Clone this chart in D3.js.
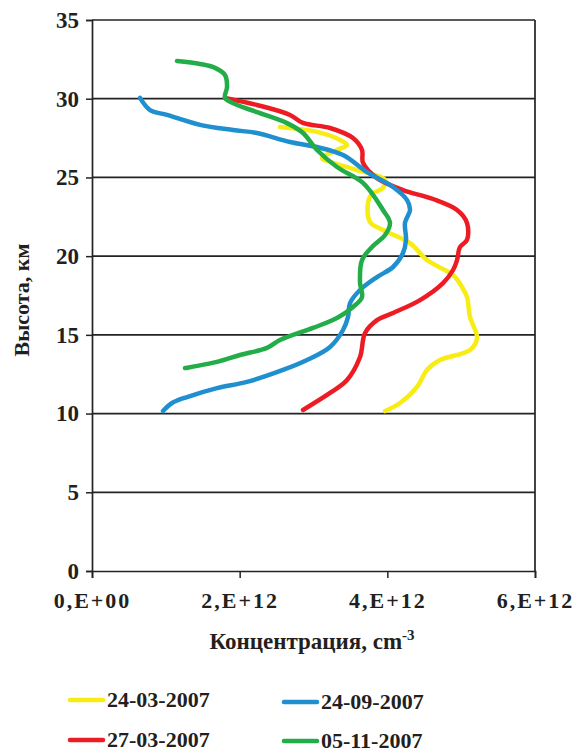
<!DOCTYPE html>
<html>
<head>
<meta charset="utf-8">
<script src="https://cdn.jsdelivr.net/npm/d3@7"></script>
<style>
  html, body { margin: 0; padding: 0; background: #fff; }
  svg text { font-family: "Liberation Serif", "Times New Roman", serif; font-weight: bold; fill: #231f20; }
</style>
</head>
<body>
<svg id="chart" width="574" height="753"></svg>
<script>
// ---- data (concentration in 1e12 cm^-3, altitude in km) ----
const seriesNames = ["24-03-2007", "27-03-2007", "24-09-2007", "05-11-2007"];
const seriesColors = ["#f7ec13", "#ed1c24", "#1f8fd0", "#22ad48"];

const yellowConc = [2.546,3.048,3.359,3.454,3.318,3.115,3.264,3.589,3.969,3.941,3.792,3.738,3.765,3.941,4.307,4.537,4.890,5.011,5.079,5.120,5.215,5.120,4.714,4.537,4.402,4.172,3.969];
const yellowAlt  = [28.20,27.89,27.38,27.06,26.74,26.23,25.92,25.47,24.84,24.33,23.95,23.38,22.17,21.66,20.83,19.75,18.80,18.04,17.40,16.13,14.80,14.04,13.40,12.77,11.69,10.67,10.16];

const redConc = [1.801,2.235,2.682,2.858,3.224,3.535,3.657,3.671,3.860,4.212,4.619,4.944,5.079,5.079,4.984,4.944,4.890,4.754,4.443,4.077,3.860,3.698,3.630,3.454,3.224,2.858];
const redAlt  = [30.05,29.60,28.97,28.46,28.14,27.50,26.74,25.92,24.96,24.20,23.63,22.93,22.11,21.03,20.58,19.75,19.12,18.29,17.21,16.39,15.94,15.12,13.59,12.13,11.31,10.23];

const blueConc = [0.650,0.786,1.016,1.463,1.910,2.235,2.682,3.048,3.400,3.725,4.077,4.267,4.307,4.239,4.253,4.212,4.077,3.860,3.630,3.495,3.467,3.400,3.224,2.912,2.587,2.099,1.693,1.287,1.084,0.962];
const blueAlt  = [30.05,29.28,28.97,28.34,28.01,27.82,27.25,26.93,26.42,25.34,24.39,23.56,22.93,22.11,21.03,20.20,19.31,18.67,17.85,17.02,16.13,15.31,14.23,13.40,12.77,12.01,11.62,11.05,10.67,10.16];

const greenConc = [1.151,1.463,1.666,1.801,1.829,1.801,1.937,2.235,2.641,2.858,3.048,3.318,3.671,3.941,4.036,3.969,3.792,3.657,3.630,3.657,3.535,3.318,2.993,2.546,2.370,2.005,1.693,1.260];
const greenAlt  = [32.40,32.21,31.96,31.51,30.74,30.05,29.66,29.15,28.45,27.82,26.74,25.66,24.65,22.93,22.11,21.34,20.58,19.75,18.29,17.40,16.77,16.07,15.44,14.67,14.17,13.72,13.28,12.89];

const xTickValues = [0, 2, 4, 6];
const xTickLabels = ["0,E+00", "2,E+12", "4,E+12", "6,E+12"];
const yTickValues = [0, 5, 10, 15, 20, 25, 30, 35];
const xTitle = "Концентрация, cm";
const xTitleSup = "-3";
const yTitle = "Высота, км";

// ---- layout ----
const svg = d3.select("#chart");
const pLeft = 92, pRight = 535, pTop = 20, pBottom = 571;
const x = d3.scaleLinear().domain([0, 6]).range([pLeft, pRight]);
const y = d3.scaleLinear().domain([0, 35]).range([pBottom, pTop]);

// gridlines
svg.append("g").selectAll("line")
  .data(yTickValues.filter(v => v > 0))
  .join("line")
  .attr("x1", pLeft).attr("x2", pRight)
  .attr("y1", d => y(d)).attr("y2", d => y(d))
  .attr("stroke", "#232323").attr("stroke-width", 1.7);
// right frame
svg.append("line").attr("x1", pRight).attr("x2", pRight).attr("y1", pTop).attr("y2", pBottom)
  .attr("stroke", "#232323").attr("stroke-width", 1.7);

// axes
const yAxis = d3.axisLeft(y).tickValues(yTickValues).tickSize(6).tickPadding(7);
const gy = svg.append("g").attr("transform", `translate(${pLeft},0)`).call(yAxis);
gy.select(".domain").attr("stroke", "#232323").attr("stroke-width", 1.7);
gy.selectAll(".tick line").attr("stroke", "#232323").attr("stroke-width", 1.5);
gy.selectAll(".tick text").style("font-size", "23px").attr("fill", "#231f20");

const xAxis = d3.axisBottom(x).tickValues(xTickValues).tickFormat((d, i) => xTickLabels[i]).tickSize(7).tickPadding(14);
const gx = svg.append("g").attr("transform", `translate(0,${pBottom})`).call(xAxis);
gx.select(".domain").attr("stroke", "#232323").attr("stroke-width", 1.7);
gx.selectAll(".tick line").attr("stroke", "#232323").attr("stroke-width", 1.5);
gx.selectAll(".tick text").style("font-size", "22px").style("letter-spacing", "2px").attr("fill", "#231f20");

// axis titles
const xt = svg.append("text").attr("x", 312).attr("y", 649).attr("text-anchor", "middle")
  .style("font-size", "23px");
xt.append("tspan").text(xTitle);
xt.append("tspan").text(xTitleSup).attr("dy", -9).style("font-size", "15px");

svg.append("text").attr("transform", "translate(29,300) rotate(-90)")
  .attr("text-anchor", "middle").style("font-size", "22px").text(yTitle);

// series lines
const series = [
  { conc: yellowConc, alt: yellowAlt },
  { conc: redConc, alt: redAlt },
  { conc: blueConc, alt: blueAlt },
  { conc: greenConc, alt: greenAlt }
];
const line = d3.line().x(d => x(d[0])).y(d => y(d[1])).curve(d3.curveCatmullRom.alpha(0.5));
series.forEach((s, i) => {
  const pts = s.conc.map((c, j) => [c, s.alt[j]]);
  svg.append("path").datum(pts).attr("d", line)
    .attr("fill", "none").attr("stroke", seriesColors[i])
    .attr("stroke-width", 4.5).attr("stroke-linecap", "round").attr("stroke-linejoin", "round");
});

// legend
const legendPos = [[70, 700], [70, 740], [284, 702], [284, 741]];
seriesNames.forEach((name, i) => {
  const [lx, ly] = legendPos[i];
  svg.append("line").attr("x1", lx).attr("x2", lx + 33).attr("y1", ly).attr("y2", ly)
    .attr("stroke", seriesColors[i]).attr("stroke-width", 4.5).attr("stroke-linecap", "round");
  svg.append("text").attr("x", lx + 37).attr("y", ly + 7).style("font-size", "22px").text(name);
});
</script>
</body>
</html>
